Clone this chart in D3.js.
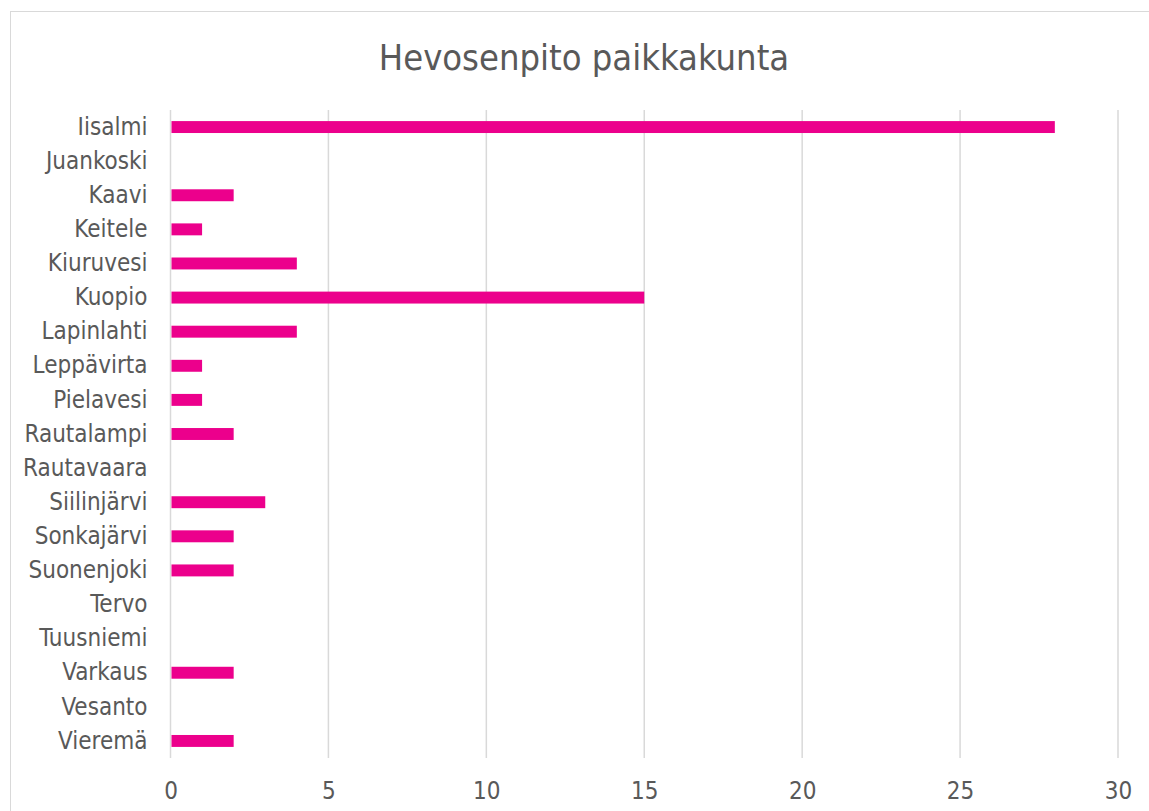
<!DOCTYPE html>
<html>
<head>
<meta charset="utf-8">
<script src="https://cdn.jsdelivr.net/npm/d3@7"></script>
<style>
  body { margin: 0; background: #fff; }
  text { font-family: "DejaVu Sans Condensed", "DejaVu Sans", sans-serif; fill: #595959; }
</style>
</head>
<body>
<div id="chart"></div>
<script>
const places = ["Iisalmi", "Juankoski", "Kaavi", "Keitele", "Kiuruvesi", "Kuopio", "Lapinlahti",
  "Leppävirta", "Pielavesi", "Rautalampi", "Rautavaara", "Siilinjärvi", "Sonkajärvi",
  "Suonenjoki", "Tervo", "Tuusniemi", "Varkaus", "Vesanto", "Vieremä"];
const counts = [28, 0, 2, 1, 4, 15, 4, 1, 1, 2, 0, 3, 2, 2, 0, 0, 2, 0, 2];
const xTicks = [0, 5, 10, 15, 20, 25, 30];
const title = "Hevosenpito paikkakunta";

const W = 1149, H = 811;
const margin = {top: 110, right: 31, bottom: 53, left: 170.5};
const width = W - margin.left - margin.right;
const height = H - margin.top - margin.bottom;

const svg = d3.select("#chart").append("svg")
  .attr("width", W)
  .attr("height", H);

// chart border
svg.append("rect")
  .attr("x", 10.5).attr("y", 11.5)
  .attr("width", W).attr("height", H)
  .style("fill", "none")
  .style("stroke", "#d9d9d9");

svg.append("text")
  .attr("x", 584).attr("y", 57)
  .attr("text-anchor", "middle")
  .attr("dominant-baseline", "central")
  .style("font-size", "36px")
  .text(title);

const g = svg.append("g")
  .attr("transform", "translate(" + margin.left + "," + margin.top + ")");

const x = d3.scaleLinear()
  .domain([0, 30])
  .range([0, width]);

const y = d3.scaleBand()
  .domain(places)
  .range([0, height])
  .paddingInner(0.65)
  .paddingOuter(0.325);

g.append("g")
  .attr("class", "grid")
  .selectAll("line")
  .data(xTicks)
  .enter().append("line")
  .attr("x1", d => x(d))
  .attr("x2", d => x(d))
  .attr("y1", 0)
  .attr("y2", height)
  .style("stroke", "#d9d9d9")
  .style("stroke-width", 1.5);

g.append("g")
  .attr("class", "bars")
  .selectAll("rect")
  .data(places.map((p, i) => ({place: p, value: counts[i]})))
  .enter().append("rect")
  .attr("x", x(0) + 1)
  .attr("y", d => y(d.place))
  .attr("width", d => Math.max(0, x(d.value) - x(0) - 1))
  .attr("height", y.bandwidth())
  .style("fill", "#ec008c");

const xAxis = d3.axisBottom(x)
  .tickValues(xTicks)
  .tickSize(0)
  .tickPadding(24);

g.append("g")
  .attr("class", "x axis")
  .attr("transform", "translate(0," + height + ")")
  .call(xAxis)
  .call(a => a.select(".domain").remove())
  .selectAll("text")
  .style("font-size", "24px")
  .style("font-family", null);

const yAxis = d3.axisLeft(y)
  .tickSize(0)
  .tickPadding(23);

g.append("g")
  .attr("class", "y axis")
  .call(yAxis)
  .call(a => a.select(".domain").remove())
  .selectAll("text")
  .style("font-size", "24px")
  .style("font-family", null);
</script>
</body>
</html>
